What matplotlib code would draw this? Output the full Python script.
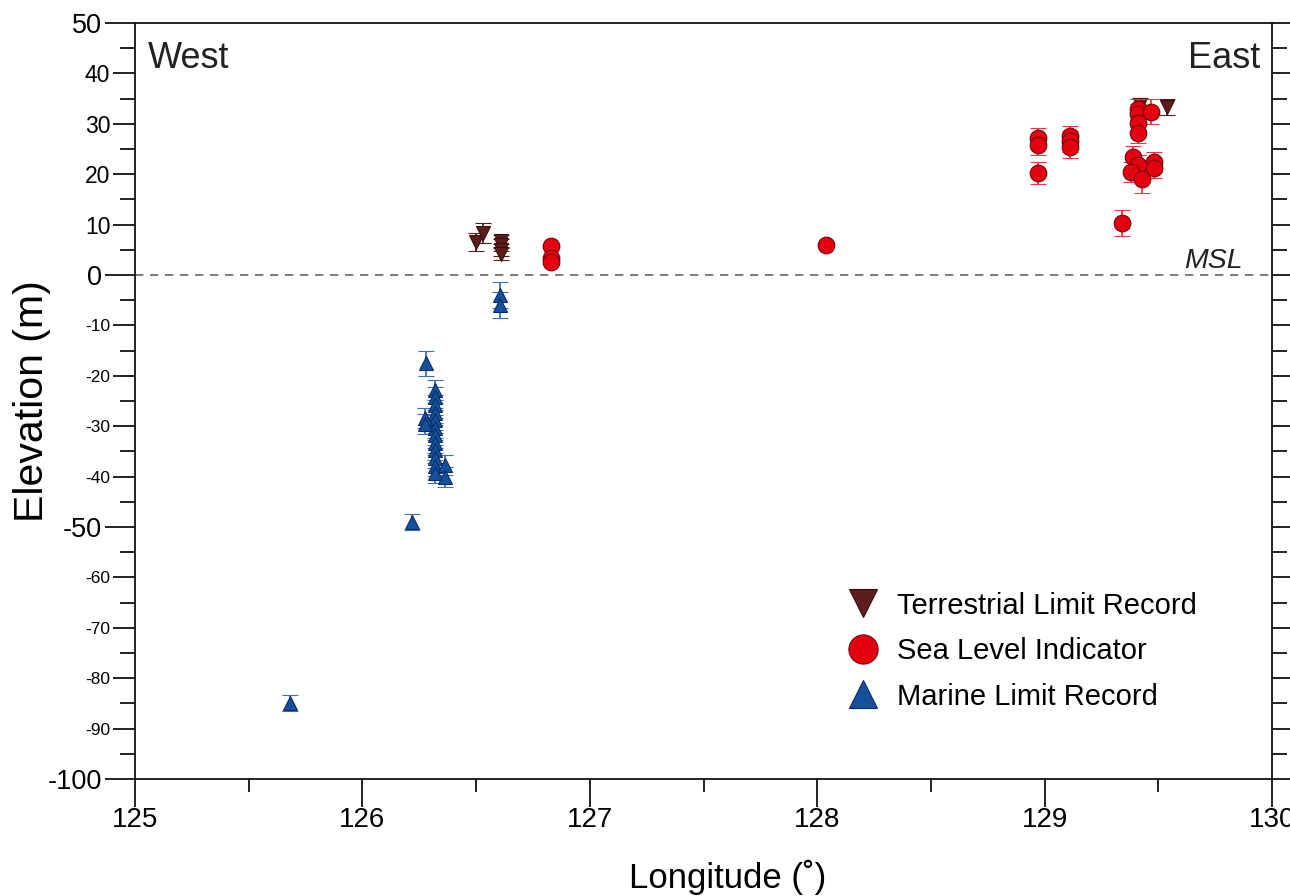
import matplotlib
matplotlib.use('Agg')
import matplotlib.pyplot as plt
from matplotlib.lines import Line2D

plt.rcParams['font.family'] = ['Liberation Sans', 'DejaVu Sans']

# ---------------- data ----------------
terr_lon = [126.50, 126.53, 126.61, 126.61, 126.61, 126.61, 129.42, 129.54]
terr_elev = [6.6, 8.3, 6.8, 5.9, 5.0, 4.2, 33.7, 33.4]
terr_err = [1.8, 2.0, 1.2, 1.2, 1.2, 1.2, 1.5, 1.6]

sea_lon = [126.83, 126.83, 126.83, 128.04,
           128.97, 128.97, 128.97,
           129.11, 129.11, 129.11,
           129.34,
           129.41, 129.41, 129.41, 129.41, 129.47,
           129.39, 129.41, 129.38, 129.43, 129.48, 129.48]
sea_elev = [5.8, 3.4, 2.6, 6.0,
            27.2, 25.8, 20.3,
            27.5, 26.5, 25.3,
            10.3,
            33.0, 32.0, 30.1, 28.1, 32.4,
            23.5, 21.8, 20.5, 19.0, 22.5, 21.2]
sea_err = [0, 0, 0, 0,
           2.0, 2.0, 2.2,
           2.0, 2.0, 2.0,
           2.6,
           2.0, 2.0, 2.0, 2.0, 2.5,
           2.0, 2.0, 2.0, 2.8, 2.0, 2.0]

marine_lon = [125.68, 126.22, 126.28,
              126.32, 126.32, 126.32, 126.32, 126.32, 126.32,
              126.32, 126.32, 126.32, 126.32, 126.32, 126.32,
              126.275, 126.275, 126.365, 126.365,
              126.605, 126.605]
marine_elev = [-85.0, -49.0, -17.5,
               -22.8, -24.3, -25.8, -27.3, -28.8, -30.3,
               -31.8, -33.3, -34.8, -36.3, -37.8, -39.3,
               -28.3, -29.5, -37.7, -40.0,
               -4.0, -6.0]
marine_err = [1.6, 1.5, 2.5,
              2.0, 2.0, 2.0, 2.0, 2.0, 2.0,
              2.0, 2.0, 2.0, 2.0, 2.0, 2.0,
              2.0, 2.0, 2.0, 2.0,
              2.6, 2.6]

series_labels = ['Terrestrial Limit Record', 'Sea Level Indicator', 'Marine Limit Record']

yticks = [50, 40, 30, 20, 10, 0, -10, -20, -30, -40, -50, -60, -70, -80, -90, -100]
xticks = [125, 126, 127, 128, 129, 130]

# ---------------- style ----------------
c_terr, c_terr_edge, c_terr_err = '#5c1c1c', '#3a0e0e', '#5c1c1c'
c_sea, c_sea_edge, c_sea_err = '#e3000f', '#7a0008', '#e23a3f'
c_mar, c_mar_edge, c_mar_err = '#15509e', '#0a2c60', '#3f6fb5'

fig = plt.figure(figsize=(12.9, 8.96), dpi=100)
ax = fig.add_axes([135 / 1290, 117 / 896, (1272 - 135) / 1290, (779 - 23) / 896])

ax.axhline(0, color='#666666', lw=1.2, ls=(0, (5, 4)), zorder=1)

ax.errorbar(marine_lon, marine_elev, yerr=marine_err, fmt='^', ms=10.5,
            mfc=c_mar, mec=c_mar_edge, mew=0.8, ecolor=c_mar_err, elinewidth=1.3,
            capsize=5.5, capthick=1.3, zorder=3)
ax.errorbar(terr_lon, terr_elev, yerr=terr_err, fmt='v', ms=10.5,
            mfc=c_terr, mec=c_terr_edge, mew=0.8, ecolor=c_terr_err, elinewidth=1.3,
            capsize=5.5, capthick=1.3, zorder=4)
ax.errorbar(sea_lon, sea_elev, yerr=sea_err, fmt='o', ms=12,
            mfc=c_sea, mec=c_sea_edge, mew=0.8, ecolor=c_sea_err, elinewidth=1.3,
            capsize=5.5, capthick=1.3, zorder=5)

ax.set_xlim(125, 130)
ax.set_ylim(-100, 50)

for s in ax.spines.values():
    s.set_linewidth(1.3)
    s.set_color('#111111')

# x ticks
ax.set_xticks(xticks)
ax.set_xticklabels([str(v) for v in xticks], fontsize=20)
ax.set_xticks([125.5, 126.5, 127.5, 128.5, 129.5], minor=True)
ax.tick_params(axis='x', which='major', direction='out', length=20, width=1.3, pad=0, top=False, color='#111111')
ax.tick_params(axis='x', which='minor', direction='out', length=9.5, width=1.3, top=False, color='#111111')

# y ticks
ax.set_yticks(yticks)
ylabs = ax.set_yticklabels([str(v) for v in yticks])
ax.set_yticks([v + 5 for v in yticks[1:]], minor=True)
ax.tick_params(axis='y', which='major', direction='out', length=15.8, width=1.3, pad=2,
               left=True, right=True, labelright=False, color='#111111')
ax.tick_params(axis='y', which='minor', direction='out', length=10.8, width=1.3,
               left=True, right=True, color='#111111')
for v, lab, tk in zip(yticks, ylabs, ax.yaxis.get_major_ticks()):
    if v in (50, 0, -50, -100):
        lab.set_fontsize(19.5)
        tk._apply_params(size=21.6)
    elif v > 0:
        lab.set_fontsize(16.5)
    else:
        lab.set_fontsize(12.5)

ax.set_xlabel('Longitude (˚)', fontsize=25)
ax.xaxis.set_label_coords(0.5215, -0.107)
ax.set_ylabel('Elevation (m)', fontsize=29.5)
ax.yaxis.set_label_coords(-0.074, 0.5)

ax.text(0.011, 0.953, 'West', transform=ax.transAxes, fontsize=26, ha='left', va='center', color='#222222')
ax.text(0.9895, 0.953, 'East', transform=ax.transAxes, fontsize=26, ha='right', va='center', color='#222222')
ax.text(0.9745, 100 / 150 + 0.0185, 'MSL', transform=ax.transAxes, fontsize=20.5,
        style='italic', ha='right', va='center', color='#222222')

handles = [
    Line2D([], [], ls='none', marker='v', ms=20, mfc=c_terr, mec=c_terr_edge, mew=0.8),
    Line2D([], [], ls='none', marker='o', ms=21, mfc=c_sea, mec=c_sea_edge, mew=0.8),
    Line2D([], [], ls='none', marker='^', ms=20, mfc=c_mar, mec=c_mar_edge, mew=0.8),
]
ax.legend(handles, series_labels, loc='upper left', bbox_to_anchor=(0.6245, 0.248),
          frameon=False, fontsize=21, handlelength=1.2, handletextpad=0.57,
          labelspacing=0.6, borderpad=0, borderaxespad=0)

fig.savefig('out.png', dpi=100)
